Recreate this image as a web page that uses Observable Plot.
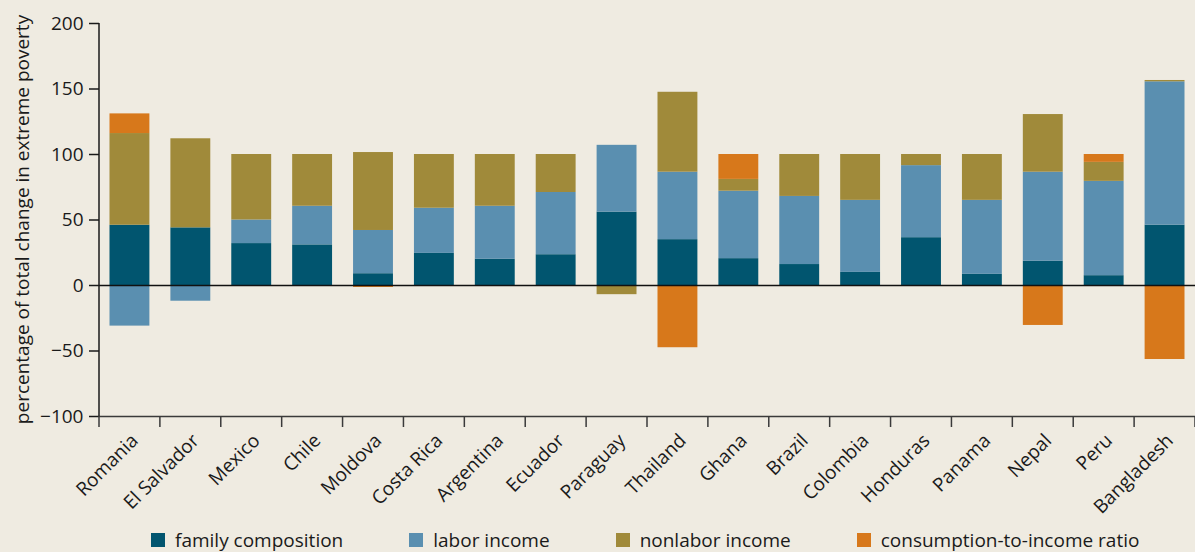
<!DOCTYPE html>
<html><head><meta charset="utf-8">
<script src="https://cdn.jsdelivr.net/npm/d3@7"></script>
<script src="https://cdn.jsdelivr.net/npm/@observablehq/plot@0.6"></script>
<style>
html,body{margin:0;padding:0;background:#efebe1;}
body{width:1195px;height:552px;overflow:hidden;font-family:"Open Sans",sans-serif;}
#legend{display:flex;align-items:center;padding-left:151px;margin-top:-1px;height:26px;font-size:19px;line-height:22px;color:#1a1a1a;white-space:nowrap;}
#legend .item{display:flex;align-items:center;margin-right:66px;}
#legend .sw{width:14px;height:14px;margin-right:10px;flex:none;}
</style></head><body><div id="chart"></div><div id="legend"></div>
<script>
const countries = ["Romania","El Salvador","Mexico","Chile","Moldova","Costa Rica","Argentina","Ecuador","Paraguay","Thailand","Ghana","Brazil","Colombia","Honduras","Panama","Nepal","Peru","Bangladesh"];
const seriesNames = ["family composition","labor income","nonlabor income","consumption-to-income ratio"];
const familyComposition = [46, 44, 32, 31, 9, 24.5, 20, 23.5, 56, 35, 20.5, 16, 10, 36.5, 8.5, 18.5, 7.5, 46];
const laborIncome       = [-31, -12, 18, 29.5, 33, 34.5, 40.5, 47.5, 51, 51.5, 51.5, 52, 55, 55, 56.5, 68, 72, 109.5];
const nonlaborIncome    = [70, 68, 50, 39.5, 59.5, 41, 39.5, 29, -7, 61, 9, 32, 35, 8.5, 35, 44, 14.5, 1];
const consumptionRatio  = [15, 0, 0, 0, -1.5, 0, 0, 0, 0, -47.5, 19, 0, 0, 0, 0, -30.5, 6, -56.5];
const colors = ["#01556f", "#5a8fb0", "#a08a3a", "#d7781b"];
const yTicks = [-100, -50, 0, 50, 100, 150, 200];
const yLabel = "percentage of total change in extreme poverty";

const seriesValues = [familyComposition, laborIncome, nonlaborIncome, consumptionRatio];
const table = [];
countries.forEach((c, i) => seriesNames.forEach((s, j) => {
  table.push({country: c, series: s, value: seriesValues[j][i]});
}));

function frameExtras(index, scales) {
  const x = scales.x, y = scales.y;
  const step = x(countries[1]) - x(countries[0]);
  const edges = countries.map(c => x(c));
  edges.push(edges[edges.length - 1] + step);
  const yb = y(yTicks[0]);
  const g = d3.create("svg:g");
  g.selectAll("line.t").data(edges).join("line")
    .attr("x1", d => d).attr("x2", d => d)
    .attr("y1", yb).attr("y2", yb + 11)
    .attr("stroke", "#3a3a3a").attr("stroke-width", 1.5);
  g.append("line")
    .attr("x1", edges[0]).attr("x2", edges[0])
    .attr("y1", y(yTicks[yTicks.length - 1])).attr("y2", yb)
    .attr("stroke", "#1a1a1a").attr("stroke-width", 1.5);
  const ymid = (y(yTicks[0]) + y(yTicks[yTicks.length - 1])) / 2;
  g.append("text")
    .attr("transform", `translate(22,${ymid}) rotate(-90)`)
    .attr("text-anchor", "middle").attr("dominant-baseline", "central")
    .attr("font-size", 19).attr("fill", "#1a1a1a")
    .text(yLabel);
  return g.node();
}

const chart = Plot.plot({
  width: 1195,
  height: 528,
  marginTop: 23,
  marginBottom: 112,
  marginLeft: 99,
  marginRight: 0,
  style: {background: "#efebe1", fontFamily: "'Open Sans', sans-serif", fontSize: "19px", color: "#1a1a1a"},
  x: {domain: countries, padding: 0, round: false, label: null},
  y: {domain: [-100, 200], label: null},
  color: {domain: seriesNames, range: colors},
  marks: [
    Plot.barY(table, {x: "country", y: "value", fill: "series", order: seriesNames, insetLeft: 10.5, insetRight: 10.5}),
    Plot.ruleY([0], {stroke: "#111", strokeWidth: 1.5}),
    Plot.ruleY([-100], {stroke: "#3a3a3a", strokeWidth: 1.5}),
    Plot.axisY({ticks: yTicks, tickSize: 10, tickPadding: 6, label: null, stroke: "#1a1a1a", strokeWidth: 1.5, fontSize: 19}),
    Plot.axisX({tickRotate: -45, tickSize: 0, tickPadding: 21, dx: 5, label: null, fontSize: 19}),
    frameExtras
  ]
});
document.getElementById("chart").appendChild(chart);

const legend = d3.select("#legend");
seriesNames.forEach((s, i) => {
  const it = legend.append("div").attr("class", "item");
  it.append("div").attr("class", "sw").style("background", colors[i]);
  it.append("span").text(s);
});
</script>
</body></html>
